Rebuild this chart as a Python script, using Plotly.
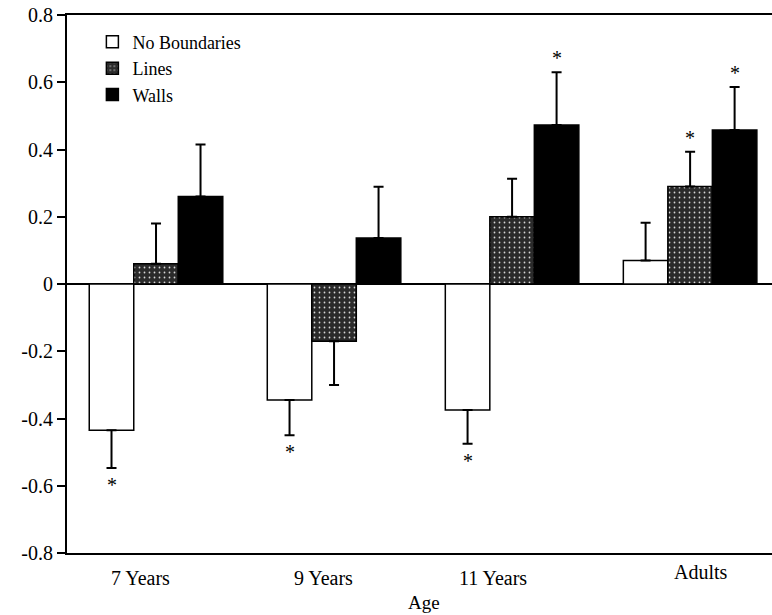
import plotly.graph_objects as go

# Age groups and condition series
ages = ["7 Years", "9 Years", "11 Years", "Adults"]
conditions = ["No Boundaries", "Lines", "Walls"]

no_boundaries = [-0.435, -0.345, -0.375, 0.070]
lines = [0.060, -0.170, 0.200, 0.290]
walls = [0.260, 0.137, 0.473, 0.458]

no_boundaries_err = [0.112, 0.105, 0.100, 0.112]
lines_err = [0.120, 0.130, 0.113, 0.103]
walls_err = [0.155, 0.152, 0.157, 0.128]

# significance flags (asterisk beyond the error bar)
no_boundaries_sig = [True, True, True, False]
lines_sig = [False, False, False, True]
walls_sig = [False, False, True, True]

y_ticks = [-0.8, -0.6, -0.4, -0.2, 0, 0.2, 0.4, 0.6, 0.8]
y_tick_text = ["-0.8", "-0.6", "-0.4", "-0.2", "0", "0.2", "0.4", "0.6", "0.8"]

FONT = "Liberation Serif"
FS = 20
BAR_W = 0.25
offsets = [-BAR_W, 0.0, BAR_W]

series = [
    (conditions[0], no_boundaries, no_boundaries_err, no_boundaries_sig,
     dict(color="white", line=dict(color="black", width=1.5))),
    (conditions[1], lines, lines_err, lines_sig,
     dict(color="#2b2b2b", line=dict(color="black", width=1.5),
          pattern=dict(shape=".", fgcolor="#d8d8d8", bgcolor="#2b2b2b",
                       size=5, solidity=0.1, fillmode="replace"))),
    (conditions[2], walls, walls_err, walls_sig,
     dict(color="black", line=dict(color="black", width=1.5))),
]

fig = go.Figure()
annotations = []
for (name, vals, errs, sig, marker), off in zip(series, offsets):
    xs = [i + off for i in range(len(ages))]
    up = [e if v >= 0 else 0 for v, e in zip(vals, errs)]
    down = [e if v < 0 else 0 for v, e in zip(vals, errs)]
    fig.add_trace(go.Bar(
        x=xs, y=vals, name=name, width=BAR_W, marker=marker,
        error_y=dict(type="data", symmetric=False, array=up, arrayminus=down,
                     color="black", thickness=2, width=5),
    ))
    for x, v, e, s in zip(xs, vals, errs, sig):
        if s:
            tip = v + e if v >= 0 else v - e
            annotations.append(dict(
                x=x, y=tip, xref="x", yref="y", text="*", showarrow=False,
                font=dict(family=FONT, size=FS, color="black"),
                yshift=14 if v >= 0 else -17,
            ))

# category labels under the axis
label_shift = [-16, -11, -19, 11]
label_yshift = [0, 0, 0, 6]
for i, (lab, dx, dy) in enumerate(zip(ages, label_shift, label_yshift)):
    annotations.append(dict(
        x=i, y=0, xref="x", yref="paper", text=lab, showarrow=False,
        xshift=dx, yshift=-12 + dy, yanchor="top",
        font=dict(family=FONT, size=FS, color="black"),
    ))
annotations.append(dict(
    x=0.507, y=0, xref="paper", yref="paper", text="Age", showarrow=False,
    yshift=-37, yanchor="top", font=dict(family=FONT, size=19, color="black"),
))

fig.update_layout(
    width=772, height=615,
    margin=dict(l=67, r=0, t=15, b=62),
    paper_bgcolor="white", plot_bgcolor="white",
    barmode="overlay",
    showlegend=True,
    legend=dict(x=0.036, y=0.984, xanchor="left", yanchor="top",
                font=dict(family=FONT, size=18, color="black"),
                bgcolor="rgba(0,0,0,0)", tracegroupgap=0, itemwidth=30),
    annotations=annotations,
    font=dict(family=FONT, size=FS, color="black"),
)
fig.update_xaxes(
    range=[-0.5, 3.46], showgrid=False, zeroline=False,
    showline=True, linecolor="black", linewidth=2, mirror=True,
    showticklabels=False, ticks="",
)
fig.update_yaxes(
    range=[-0.8, 0.8], showgrid=False,
    zeroline=True, zerolinecolor="black", zerolinewidth=2,
    showline=True, linecolor="black", linewidth=2, mirror=False,
    ticks="outside", ticklen=8, tickcolor="black", tickwidth=1.5,
    tickvals=y_ticks, ticktext=y_tick_text,
    tickfont=dict(family=FONT, size=FS, color="black"),
)

fig.write_html("out.html")
